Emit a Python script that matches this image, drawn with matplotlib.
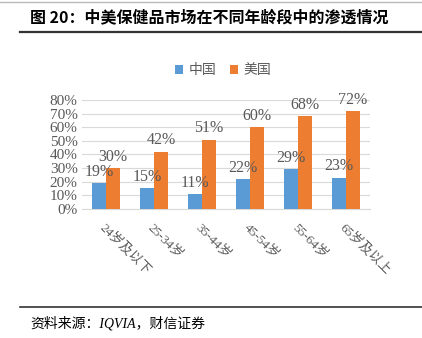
import matplotlib
matplotlib.use("Agg")
import matplotlib.pyplot as plt
import numpy as np

plt.rcParams['font.family'] = ['Liberation Serif', 'Noto Sans CJK SC']

groups = ["24岁及以下", "25-34岁", "35-44岁", "45-54岁", "55-64岁", "65岁及以上"]
china = [19, 15, 11, 22, 29, 23]
usa = [30, 42, 51, 60, 68, 72]
yticks = [0, 10, 20, 30, 40, 50, 60, 70, 80]

blue = "#5B9BD5"
orange = "#ED7D31"
grey = "#595959"

fig = plt.figure(figsize=(4.22, 3.38), dpi=100)

# title and frame lines
fig.add_artist(plt.Line2D([0.0, 1.0], [0.994, 0.994], color='#BBBBBB', lw=1.0))
fig.text(0.072, 0.948, "图 20：中美保健品市场在不同年龄段中的渗透情况", fontsize=11.5,
         fontweight='bold', family=['Noto Sans CJK SC'], va='center', ha='left')
fig.add_artist(plt.Line2D([0.047, 1.0], [0.905, 0.905], color='#333333', lw=1.6))
fig.add_artist(plt.Line2D([0.047, 1.0], [0.092, 0.092], color='#333333', lw=1.2))
fig.text(0.072, 0.043, "资料来源：IQVIA，财信证券", fontsize=10, style='italic',
         family=['Liberation Serif', 'Noto Sans CJK SC'], va='center', ha='left')

ax = fig.add_axes([0.194, 0.382, 0.683, 0.322])
x = np.arange(len(groups))
w = 0.29
b1 = ax.bar(x - w / 2, china, w, color=blue, label="中国", zorder=3)
b2 = ax.bar(x + w / 2, usa, w, color=orange, label="美国", zorder=3)

for r, v in zip(b1, china):
    ax.text(r.get_x() + r.get_width() / 2, v + 2.5, f"{v}%", ha='center', va='bottom',
            fontsize=11.5, color=grey)
for r, v in zip(b2, usa):
    ax.text(r.get_x() + r.get_width() / 2, v + 2.5, f"{v}%", ha='center', va='bottom',
            fontsize=11.5, color=grey)

ax.set_ylim(0, 80)
ax.set_xlim(-0.5, len(groups) - 0.5)
ax.set_yticks(yticks)
ax.set_yticklabels([f"{t}%" for t in yticks], fontsize=11, color=grey)
ax.set_xticks(x)
ax.set_xticklabels(groups, rotation=-45, ha='left', va='top', fontsize=9.5, color=grey,
                   rotation_mode='anchor')
ax.tick_params(axis='both', length=0, pad=3)
ax.tick_params(axis='x', pad=9)
ax.grid(axis='y', color='#D9D9D9', lw=0.8, zorder=0)
for s in ['top', 'right', 'left']:
    ax.spines[s].set_visible(False)
ax.spines['bottom'].set_color('#D9D9D9')

ax.legend(loc='center', bbox_to_anchor=(0.49, 1.275), ncol=2, frameon=False,
          handlelength=0.6, handleheight=0.6, columnspacing=1.0,
          handletextpad=0.4, prop={'family': ['Noto Sans CJK SC'], 'size': 10})
for t in ax.get_legend().get_texts():
    t.set_color(grey)

fig.savefig("out.png", dpi=100)
